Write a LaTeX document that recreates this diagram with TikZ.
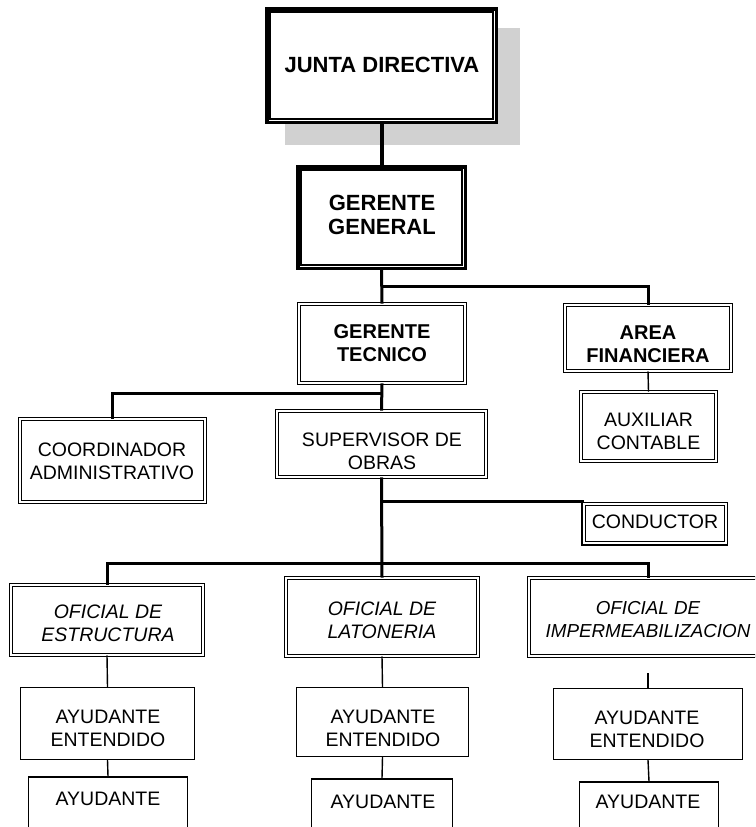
\documentclass[tikz,border=0pt]{standalone}
\usepackage{fontspec}
\setmainfont{Liberation Sans}
\begin{document}
\begin{tikzpicture}[x=1pt,y=-1pt,
  thickbox/.style={draw, line width=3.5pt, inner sep=0pt, fill=white},
  dbox/.style={draw, double, double distance=2pt, line width=1.2pt, inner sep=0pt, fill=white},
  sbox/.style={draw, line width=1.4pt, inner sep=0pt, fill=white},
  conn/.style={line width=3pt},
  lnk/.style={line width=1.4pt},
  txt/.style={align=center, inner sep=0pt, font=\fontsize{19.5}{23}\selectfont},
  txtb/.style={align=center, inner sep=0pt, font=\fontsize{20}{23}\selectfont\bfseries},
  txtbb/.style={align=center, inner sep=0pt, font=\fontsize{22}{24}\selectfont\bfseries},
  txti/.style={align=center, inner sep=0pt, font=\fontsize{19.5}{23}\selectfont\itshape}]
\clip (0,0) rectangle (755,827);
\fill[white] (0,0) rectangle (755,827);
% shadow
\fill[black!18] (285,28) rectangle (520,145);
% boxes
\node[thickbox, minimum width=229.5pt, minimum height=113.5pt] (jd) at (381.5,65.5) {};
\draw[line width=1.5pt] ([shift={(5.2pt,-5.2pt)}]jd.north west) rectangle ([shift={(-5.2pt,5.2pt)}]jd.south east);
\node[thickbox, minimum width=167.5pt, minimum height=101.5pt] (gg) at (381.5,217.5) {};
\draw[line width=1.5pt] ([shift={(5.2pt,-5.2pt)}]gg.north west) rectangle ([shift={(-5.2pt,5.2pt)}]gg.south east);
\node[dbox, minimum width=165.6pt, minimum height=78.6pt] (gt) at (382,343.5) {};
\node[dbox, minimum width=165.6pt, minimum height=65.6pt] (af) at (648,338) {};
\node[dbox, minimum width=134.6pt, minimum height=68.6pt] (ac) at (648.5,426.5) {};
\node[dbox, minimum width=184.6pt, minimum height=82.6pt] (co) at (112.5,460.5) {};
\node[dbox, minimum width=208.6pt, minimum height=65.6pt] (sup) at (381.5,444) {};
\node[dbox, minimum width=141.6pt, minimum height=38.6pt] (cond) at (655,523.5) {};
\draw[line width=2pt] ([shift={(-1.8pt,1.8pt)}]cond.north west) |- ([shift={(1.8pt,-1.8pt)}]cond.south east);
\node[dbox, minimum width=191.6pt, minimum height=69.6pt] (oe) at (107,620) {};
\node[dbox, minimum width=191.6pt, minimum height=77.6pt] (ol) at (382,617) {};
\node[dbox, minimum width=241.6pt, minimum height=77.6pt] (oi) at (650,617) {};
\node[sbox, minimum width=173.6pt, minimum height=71.6pt] (ae1) at (107.5,723.5) {};
\node[sbox, minimum width=171.6pt, minimum height=68.6pt] (ae2) at (382.5,722) {};
\node[sbox, minimum width=188.6pt, minimum height=70.6pt] (ae3) at (648,724) {};
\node[sbox, minimum width=158.6pt, minimum height=72pt] (a1) at (108,813) {};
\node[sbox, minimum width=140.6pt, minimum height=72pt] (a2) at (382,815) {};
\node[sbox, minimum width=138.6pt, minimum height=72pt] (a3) at (649,818) {};
% connectors
\coordinate (j1) at (382,286);
\coordinate (j2) at (382,393);
\coordinate (j3) at (382,501);
\coordinate (j4) at (382,563);
\coordinate (g3) at (648,673);
\draw[line width=4pt] (jd.south) -- (gg.north);
\draw[conn] (gg.south) -- (gt.north);
\draw[conn] (j1) -| (af.north);
\draw[conn] (gt.south) -- (sup.north);
\draw[conn] (j2) -| (co.north);
\draw[conn] (sup.south) -- (ol.north);
\draw[conn] (j3) -- (j3 -| cond.west);
\draw[conn] (oe.north) |- (j4);
\draw[conn] (j4) -| ([xshift=-2pt]oi.north);
\draw[lnk] (af.south) -- (ac.north);
\draw[lnk] (oe.south) -- (ae1.north);
\draw[lnk] (ae1.south) -- (a1.north);
\draw[lnk] (ol.south) -- (ae2.north);
\draw[lnk] (ae2.south) -- (a2.north);
\draw[lnk] (g3) -- (ae3.north);
\draw[lnk] (ae3.south) -- (a3.north);
% texts
\node[txtbb] (jdt) at (382,65) {JUNTA DIRECTIVA};
\node[txtbb] (ggt) at (382,215) {GERENTE\\GENERAL};
\node[txtb] (gtt) at (382,343.5) {GERENTE\\TECNICO};
\node[txtb] (aft) at (648,344.5) {AREA\\FINANCIERA};
\node[txt] (act) at (648.5,431.5) {AUXILIAR\\CONTABLE};
\node[txt] (cot) at (112,461.5) {COORDINADOR\\ADMINISTRATIVO};
\node[txt] (supt) at (382,451.5) {SUPERVISOR DE\\OBRAS};
\node[txt] (condt) at (655,521.5) {CONDUCTOR};
\node[txti] (oet) at (108,623.5) {OFICIAL DE\\ESTRUCTURA};
\node[txti] (olt) at (382,620) {OFICIAL DE\\LATONERIA};
\node[txti, font=\fontsize{18.8}{23}\selectfont\itshape] (oit) at (648,620) {OFICIAL DE\\IMPERMEABILIZACION};
\node[txt] (ae1t) at (108,728.5) {AYUDANTE\\ENTENDIDO};
\node[txt] (ae2t) at (383,728.5) {AYUDANTE\\ENTENDIDO};
\node[txt] (ae3t) at (647,729) {AYUDANTE\\ENTENDIDO};
\node[txt] (a1t) at (108,799) {AYUDANTE};
\node[txt] (a2t) at (383,802) {AYUDANTE};
\node[txt] (a3t) at (648,802) {AYUDANTE};
\end{tikzpicture}
\end{document}
